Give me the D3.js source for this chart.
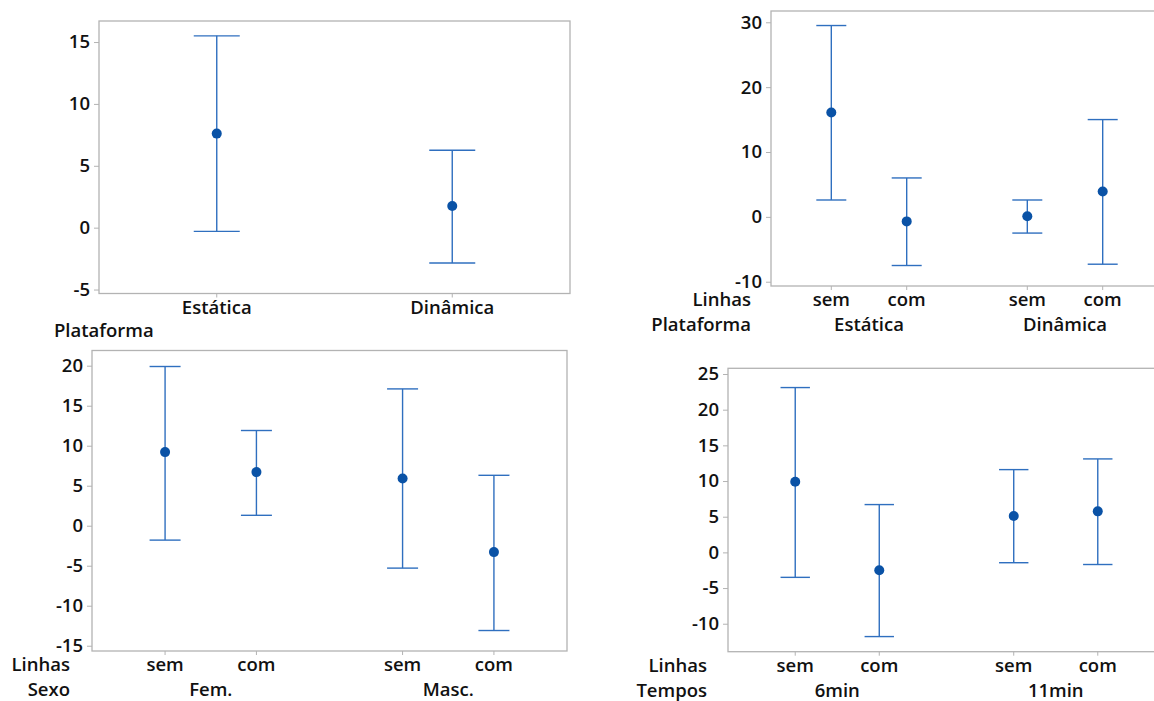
<!DOCTYPE html>
<html>
<head>
<meta charset="utf-8">
<script src="https://cdn.jsdelivr.net/npm/d3@7"></script>
<style>
body{margin:0;background:#fff;}
svg text{font-family:"Open Sans",sans-serif;font-weight:600;font-size:18.5px;fill:#111;}
.frame{fill:none;stroke:#b3b3b3;stroke-width:1.3;}
.tick line{stroke:#b3b3b3;}
.bar{stroke:#2f6fbf;stroke-width:1.4;fill:none;}
.dot{fill:#0a52a6;}
</style>
</head>
<body>
<svg id="chart" width="1154" height="701"></svg>
<script>
// panel 1 : Plataforma
var platCats=["Estática","Dinâmica"],
	platMean=[7.6,1.75],
	platLow=[-0.3,-2.85],
	platHigh=[15.5,6.25],
	platTicks=[-5,0,5,10,15];

// panel 2 : Linhas x Plataforma
var linhas=["sem","com"],
	lpGroups=["Estática","Dinâmica"],
	lpMean=[16.1,-0.7,0.1,3.9],
	lpLow=[2.6,-7.5,-2.5,-7.3],
	lpHigh=[29.5,6.0,2.6,15.0],
	lpTicks=[-10,0,10,20,30];

// panel 3 : Linhas x Sexo
var sexoGroups=["Fem.","Masc."],
	lsMean=[9.2,6.7,5.9,-3.3],
	lsLow=[-1.8,1.3,-5.3,-13.1],
	lsHigh=[19.9,11.9,17.1,6.3],
	lsTicks=[-15,-10,-5,0,5,10,15,20];

// panel 4 : Linhas x Tempos
var tempoGroups=["6min","11min"],
	ltMean=[9.9,-2.5,5.1,5.75],
	ltLow=[-3.5,-11.8,-1.45,-1.7],
	ltHigh=[23.1,6.7,11.6,13.1],
	ltTicks=[-10,-5,0,5,10,15,20,25];

var svg=d3.select("#chart");

function drawPanel(p){
	var g=svg.append("g");
	var y=d3.scaleLinear().domain(p.yDomain).range([p.bottom,p.top]);

	// x position of each point
	var xs;
	if(p.groups){
		var outer=d3.scaleBand().domain(p.groups).range([p.left,p.right]);
		var inner=d3.scalePoint().domain(linhas).range([0,outer.bandwidth()]).padding(0.8);
		xs=[];
		p.groups.forEach(function(gr){
			linhas.forEach(function(l){ xs.push(outer(gr)+inner(l)); });
		});
	}else{
		var xp=d3.scalePoint().domain(p.cats).range([p.left,p.right]).padding(0.5);
		xs=p.cats.map(function(c){return xp(c);});
	}

	g.append("rect").attr("class","frame")
		.attr("x",p.left).attr("y",p.top)
		.attr("width",p.right-p.left).attr("height",p.bottom-p.top);

	// minitab style labels use a plain hyphen
	var ax=g.append("g").attr("transform","translate("+p.left+",0)")
		.call(d3.axisLeft(y).tickValues(p.ticks).tickSize(5).tickPadding(4).tickFormat(function(d){return String(d);}));
	ax.select(".domain").remove();

	// x ticks
	g.selectAll(".xtick").data(xs).enter().append("line")
		.attr("x1",function(d){return d;}).attr("x2",function(d){return d;})
		.attr("y1",p.bottom).attr("y2",p.bottom+4)
		.attr("stroke","#b3b3b3");

	var pts=p.mean.map(function(m,i){return {x:xs[i],m:m,lo:p.low[i],hi:p.high[i]};});
	var cap=p.cap;
	var bars=g.selectAll(".eb").data(pts).enter().append("g");
	bars.append("line").attr("class","bar")
		.attr("x1",function(d){return d.x;}).attr("x2",function(d){return d.x;})
		.attr("y1",function(d){return y(d.lo);}).attr("y2",function(d){return y(d.hi);});
	bars.append("line").attr("class","bar")
		.attr("x1",function(d){return d.x-cap;}).attr("x2",function(d){return d.x+cap;})
		.attr("y1",function(d){return y(d.hi);}).attr("y2",function(d){return y(d.hi);});
	bars.append("line").attr("class","bar")
		.attr("x1",function(d){return d.x-cap;}).attr("x2",function(d){return d.x+cap;})
		.attr("y1",function(d){return y(d.lo);}).attr("y2",function(d){return y(d.lo);});
	bars.append("circle").attr("class","dot")
		.attr("cx",function(d){return d.x;}).attr("cy",function(d){return y(d.m);}).attr("r",5);

	// category labels
	var row1=p.bottom+20, row2=p.bottom+45;
	if(p.groups){
		g.selectAll(".lab").data(xs).enter().append("text")
			.attr("x",function(d){return d;}).attr("y",row1)
			.attr("text-anchor","middle")
			.text(function(d,i){return linhas[i%2];});
		g.selectAll(".glab").data(p.groups).enter().append("text")
			.attr("x",function(d){return outer(d)+outer.bandwidth()/2;}).attr("y",row2)
			.attr("text-anchor","middle").text(function(d){return d;});
		g.append("text").attr("x",p.labelX).attr("y",row1).attr("text-anchor","end").text("Linhas");
		g.append("text").attr("x",p.labelX).attr("y",row2).attr("text-anchor","end").text(p.groupName);
	}else{
		g.selectAll(".lab").data(p.cats).enter().append("text")
			.attr("x",function(d,i){return xs[i];}).attr("y",row1)
			.attr("text-anchor","middle").text(function(d){return d;});
		g.append("text").attr("x",p.labelX).attr("y",p.bottom+43).text(p.groupName);
	}
}

drawPanel({left:99,right:570,top:21,bottom:293.5,yDomain:[-5.32,16.7],ticks:platTicks,
	cats:platCats,mean:platMean,low:platLow,high:platHigh,cap:23,labelX:54,groupName:"Plataforma"});
drawPanel({left:771,right:1163,top:11,bottom:286,yDomain:[-10.66,31.74],ticks:lpTicks,
	groups:lpGroups,mean:lpMean,low:lpLow,high:lpHigh,cap:15,labelX:751,groupName:"Plataforma"});
drawPanel({left:92,right:567,top:350.5,bottom:651,yDomain:[-15.66,21.9],ticks:lsTicks,
	groups:sexoGroups,mean:lsMean,low:lsLow,high:lsHigh,cap:15.5,labelX:70,groupName:"Sexo"});
drawPanel({left:728,right:1165,top:368.3,bottom:651.7,yDomain:[-13.92,25.8],ticks:ltTicks,
	groups:tempoGroups,mean:ltMean,low:ltLow,high:ltHigh,cap:14.7,labelX:707,groupName:"Tempos"});
</script>
</body>
</html>
